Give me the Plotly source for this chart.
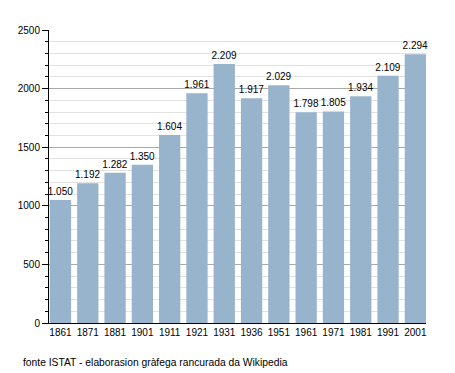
import plotly.graph_objects as go

years = ["1861", "1871", "1881", "1901", "1911", "1921", "1931", "1936", "1951", "1961", "1971", "1981", "1991", "2001"]
population = [1050, 1192, 1282, 1350, 1604, 1961, 2209, 1917, 2029, 1798, 1805, 1934, 2109, 2294]
y_ticks = [0, 500, 1000, 1500, 2000, 2500]
caption = "fonte ISTAT - elaborasion gràfega rancurada da Wikipedia"

labels = [f"{v:,}".replace(",", ".") for v in population]

W, H = 455, 373
L, R, T, B = 49, 29, 30, 50
FONT = "Liberation Sans, Arial, sans-serif"

fig = go.Figure(go.Bar(
    x=list(range(len(years))), y=population,
    marker=dict(color="#98b3cc", line=dict(width=0)),
    text=labels, textposition="outside", constraintext="none",
    textfont=dict(family=FONT, size=10, color="#000"),
    cliponaxis=False,
))

fig.update_layout(
    width=W, height=H,
    margin=dict(l=L, r=R, t=T, b=B),
    paper_bgcolor="white", plot_bgcolor="white",
    bargap=0.22,
    showlegend=False,
    font=dict(family=FONT, size=10, color="#000"),
    xaxis=dict(
        tickmode="array", tickvals=list(range(len(years))), ticktext=years,
        range=[-0.42, 13.39], showgrid=False, zeroline=False,
        showline=True, linecolor="#000", linewidth=1, ticks="",
        tickfont=dict(size=10, color="#000"),
    ),
    yaxis=dict(
        range=[0, 2500], tickvals=y_ticks, tickformat="d",
        showgrid=True, gridcolor="#a8a8a8", gridwidth=1,
        zeroline=False, showline=True, linecolor="#000", linewidth=1,
        ticks="outside", ticklen=6, tickcolor="#000",
        minor=dict(dtick=100, showgrid=True, gridcolor="#e2e2e2", ticks="outside", ticklen=3, tickcolor="#000"),
        tickfont=dict(size=10, color="#000"),
    ),
    annotations=[dict(
        text=caption, xref="paper", yref="paper",
        x=(21 - L) / (W - L - R), y=(H - B - 362) / (H - T - B),
        xanchor="left", yanchor="middle", showarrow=False,
        font=dict(size=10.3, color="#000"),
    )],
)

fig.write_html(
    "out.html",
    config={"displayModeBar": False},
    post_script="document.body.style.margin='0';document.body.style.overflow='hidden';",
)
